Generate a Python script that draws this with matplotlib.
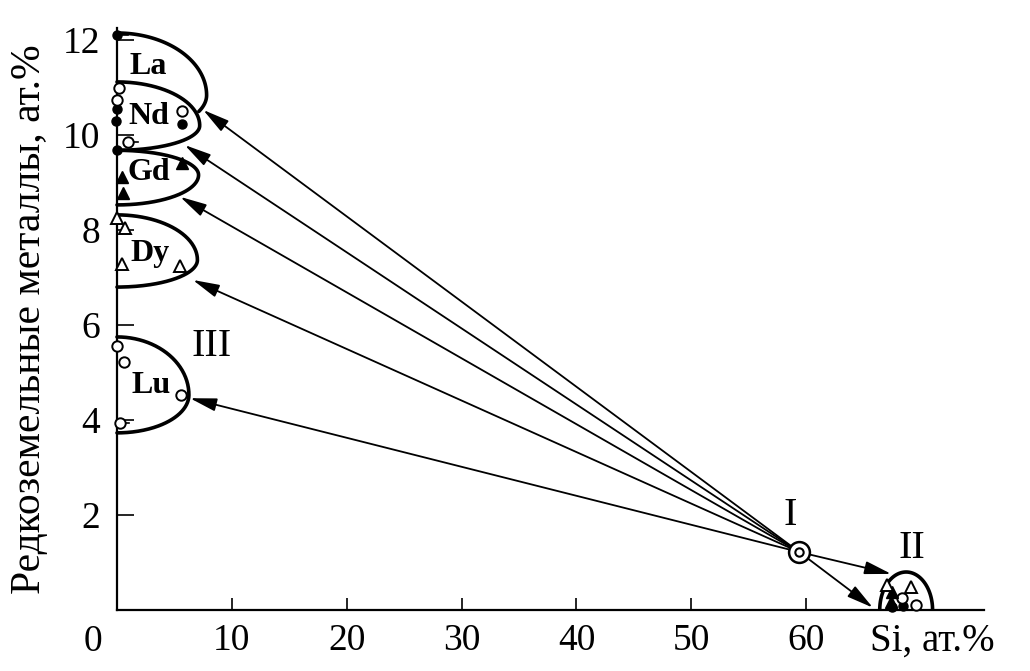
import numpy as np
import matplotlib
matplotlib.use("Agg")
import matplotlib.pyplot as plt

plt.rcParams['font.family'] = ['Liberation Serif', 'DejaVu Serif']

# ---- data ----
x_ticks = [10, 20, 30, 40, 50, 60]
x_ticklabels = ['10', '20', '30', '40', '50', '60']
y_ticks = [2, 4, 6, 8, 10, 12]
y_ticklabels = ['2', '4', '6', '8', '10', '12']

# regions (III): name, top on axis, right extreme x, y at extreme, bottom on axis
region_names = ['La', 'Nd', 'Gd', 'Dy', 'Lu']
region_top = [12.15, 11.12, 9.68, 8.32, 5.75]
region_xext = [7.8, 7.2, 7.1, 7.0, 6.26]
region_yext = [10.84, 10.2, 9.16, 7.37, 4.53]
region_bot = [10.0, 9.68, 8.53, 6.80, 3.73]
region_label_x = [2.75, 2.75, 2.75, 2.9, 2.95]
region_label_y = [11.45, 10.4, 9.22, 7.5, 4.72]

# point I and arrow targets
point_I = (59.4, 1.22)
arrow_tx = [7.5, 5.9, 5.5, 6.6, 6.35, 67.4, 65.8]
arrow_ty = [10.53, 9.79, 8.70, 6.95, 4.46, 0.76, 0.05]

# region II (half dome)
II_center = 68.7
II_halfwidth = 2.3
II_height = 0.8

# experimental points
filled_circ_x = [0.0, 0.0, -0.1, 5.7, 0.0, 67.5, 68.4]
filled_circ_y = [12.1, 10.55, 10.3, 10.23, 9.68, 0.06, 0.08]
open_circ_x = [0.17, 0.0, 5.65, 0.95, 0.0, 0.6, 5.57, 0.26, 68.3, 69.6]
open_circ_y = [11.0, 10.74, 10.5, 9.85, 5.56, 5.22, 4.53, 3.94, 0.25, 0.10]
filled_tri_x = [0.43, 0.5, 5.65, 67.5, 67.4]
filled_tri_y = [9.12, 8.78, 9.41, 0.38, 0.17]
open_tri_x = [0.0, 0.7, 0.43, 5.5, 67.0, 69.1]
open_tri_y = [8.25, 8.04, 7.28, 7.24, 0.53, 0.48]

# short horizontal error marks next to some points
err_x = [0.0, 0.95, 0.26]
err_y = [12.1, 9.85, 3.94]
err_len = [1.0, 0.9, 0.8]

fig = plt.figure(figsize=(10.30, 6.71), dpi=100)
ax = fig.add_axes([0.1136, 0.0909, 0.842, 0.867])
ax.set_xlim(0, 75.5)
ax.set_ylim(0, 12.25)

for s in ['top', 'right']:
    ax.spines[s].set_visible(False)
for s in ['left', 'bottom']:
    ax.spines[s].set_linewidth(1.6)

ax.set_xticks(x_ticks)
ax.set_xticklabels(x_ticklabels)
ax.set_yticks(y_ticks)
ax.set_yticklabels(y_ticklabels)
ax.tick_params(axis='x', direction='in', length=9, width=1.2, labelsize=27, pad=10)
ax.tick_params(axis='y', direction='in', length=12, width=1.2, labelsize=27, pad=12)

ax.text(-2.1, -0.66, '0', fontsize=27, ha='center', va='center', clip_on=False)
ax.text(71.0, -0.66, 'Si, ат.%', fontsize=28, ha='center', va='center', clip_on=False)
ax.set_ylabel('Редкоземельные металлы, ат.%', fontsize=30, labelpad=10)

# region boundaries
for i, name in enumerate(region_names):
    a = region_top[i] - region_yext[i]
    b = region_yext[i] - region_bot[i]
    if name == 'La':
        t = np.linspace(np.pi / 2, -0.42, 100)
    else:
        t = np.linspace(np.pi / 2, -np.pi / 2, 200)
    xs = region_xext[i] * np.cos(t)
    ys = np.where(t >= 0, region_yext[i] + a * np.sin(t), region_yext[i] + b * np.sin(t))
    ax.plot(xs, ys, color='black', lw=2.6, solid_capstyle='round', clip_on=False)
    ax.text(region_label_x[i], region_label_y[i], name, fontsize=23, fontweight='bold',
            ha='center', va='center')

# region II dome
t = np.linspace(0, np.pi, 100)
ax.plot(II_center + II_halfwidth * np.cos(t), II_height * np.sin(t), color='black', lw=2.6)

# arrows from I
for tx, ty in zip(arrow_tx, arrow_ty):
    ax.annotate('', xy=(tx, ty), xytext=point_I,
                arrowprops=dict(arrowstyle='-|>,head_length=0.9,head_width=0.22',
                                color='black', lw=1.3, shrinkA=6, shrinkB=0,
                                mutation_scale=18))

# point I
ax.plot(*point_I, marker='o', ms=15, mfc='white', mec='black', mew=1.8, zorder=5)
ax.plot(*point_I, marker='o', ms=6, mfc='white', mec='black', mew=1.5, zorder=6)

# error marks
for ex, ey, el in zip(err_x, err_y, err_len):
    ax.plot([ex, ex + el], [ey, ey], color='black', lw=1.2, clip_on=False, zorder=3)

# markers
ax.plot(filled_circ_x, filled_circ_y, 'o', ms=6.5, color='black', ls='none', clip_on=False, zorder=4)
ax.plot(open_circ_x, open_circ_y, 'o', ms=7.5, mfc='white', mec='black', mew=1.4, ls='none', clip_on=False, zorder=4)
ax.plot(filled_tri_x, filled_tri_y, '^', ms=8.5, color='black', ls='none', clip_on=False, zorder=4)
ax.plot(open_tri_x, open_tri_y, '^', ms=8.5, mfc='white', mec='black', mew=1.4, ls='none', clip_on=False, zorder=4)

# phase labels
ax.text(58.6, 2.0, 'I', fontsize=29, ha='center', va='center')
ax.text(69.2, 1.3, 'II', fontsize=29, ha='center', va='center')
ax.text(8.2, 5.55, 'III', fontsize=29, ha='center', va='center')

fig.savefig('out.png', dpi=100)
